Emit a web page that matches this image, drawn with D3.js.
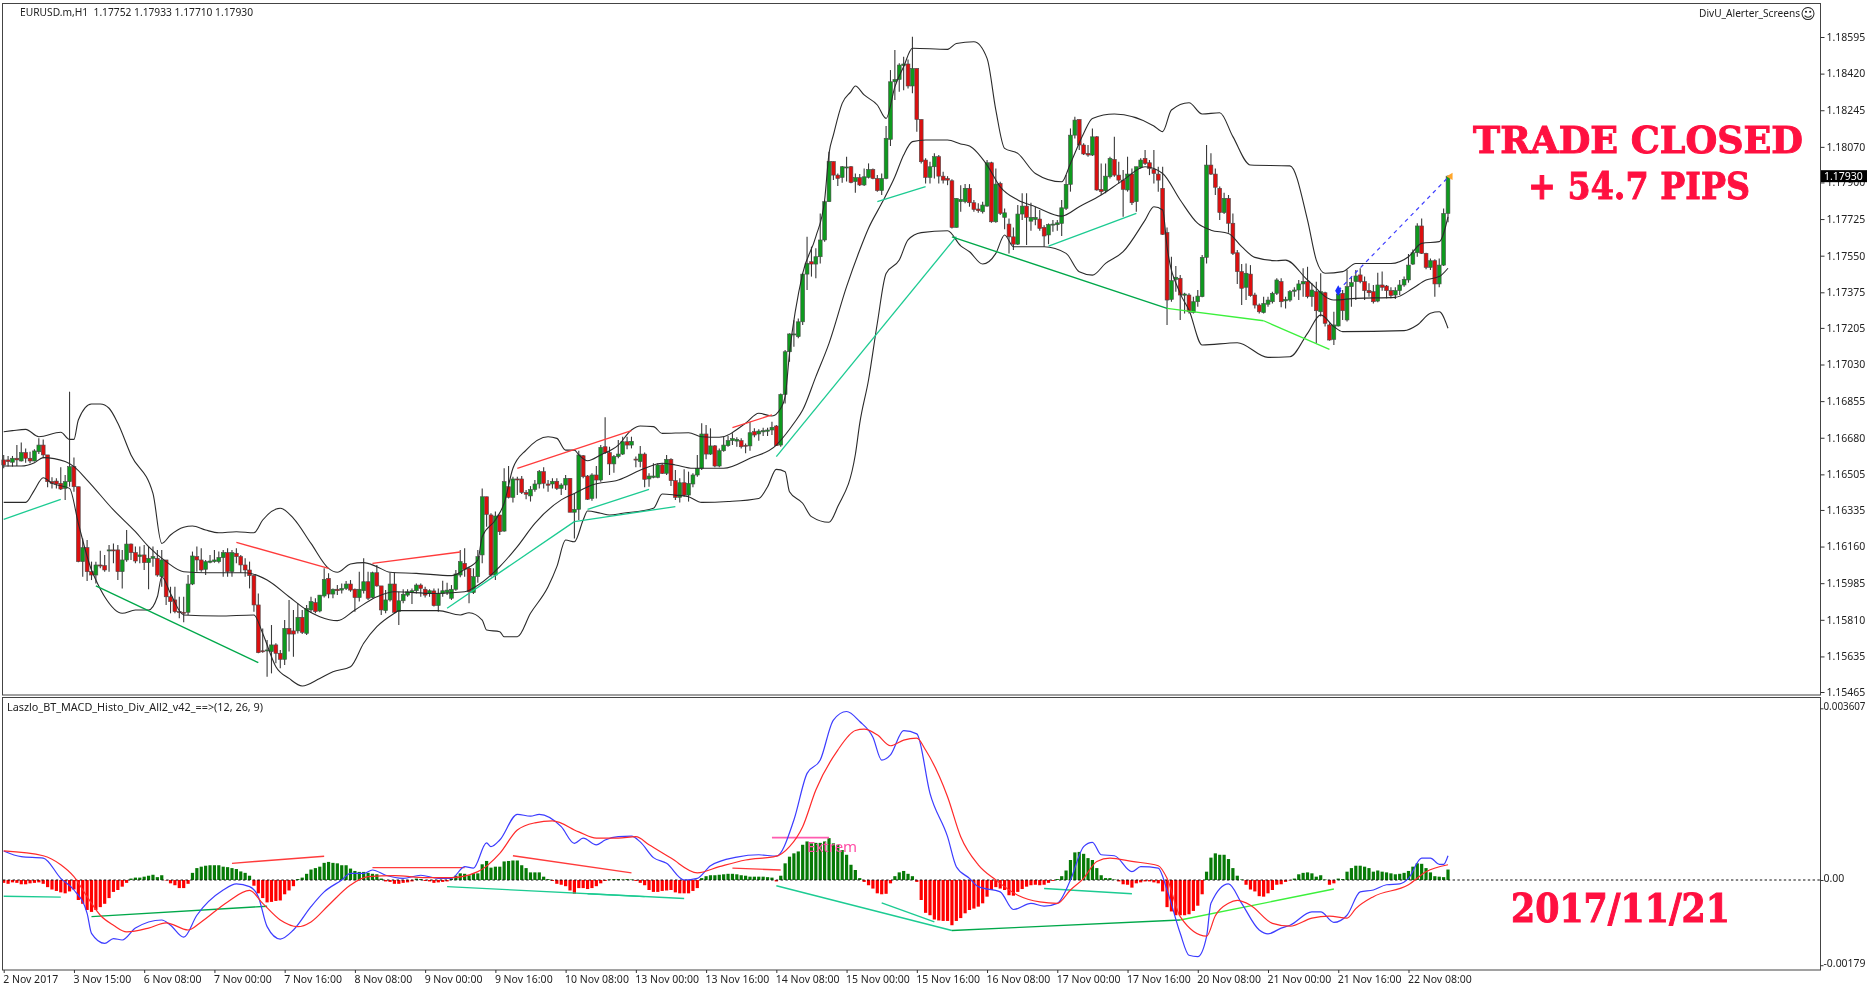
<!DOCTYPE html>
<html lang="en">

<head>
  <meta charset="UTF-8">
  <script src="https://d3js.org/d3.v7.min.js"></script>
  <title>EURUSD H1</title>
  <style>
    html, body { margin: 0; padding: 0; background: white; overflow: hidden; }
    svg { display: block; filter: blur(0.35px); }
    text { font-family: 'Noto Sans', sans-serif; font-size: 10.5px; fill: #222; }
    .big { font-family: 'DejaVu Serif', serif; font-weight: bold; fill: #ff1040; stroke: #ff1040; stroke-width: 1px; }
  </style>
</head>

<body>
  <svg id="chart" width="1867" height="993"></svg>

  <script>
    // prices are points above 1.15000, macd values are in units of 0.0001
    const opens = [1574,1574,1563,1582,1569,1609,1582,1569,1613,1645,
      1598,1470,1473,1462,1438,1470,1542,1446,1088,1155,
      1040,1024,1072,1069,1139,1144,1144,1040,1096,1172,
      1131,1112,1120,1083,1104,1104,1016,1096,920,905,
      849,846,846,981,1112,1096,1051,1085,1088,1088,
      1107,1131,1040,1128,1112,1072,1048,1021,881,662,
      661,658,690,650,621,769,757,757,822,745,
      857,892,852,924,1008,933,956,952,960,981,
      956,916,949,992,917,1035,972,854,905,981,
      849,901,928,941,949,976,956,936,948,878,
      936,941,913,956,1024,1080,1056,940,1016,1120,
      1398,1311,1024,1311,1234,1446,1395,1483,1483,1418,
      1402,1433,1459,1518,1459,1459,1472,1438,1454,1486,
      1324,1338,1594,1497,1390,1502,1478,1637,1609,1555,
      1590,1602,1661,1645,1578,1566,1602,1483,1491,1491,
      1550,1510,1577,1475,1395,1465,1406,1459,1502,1534,
      1698,1602,1641,1545,1618,1642,1666,1664,1666,1644,
      1641,1709,1698,1708,1711,1717,1736,1645,1887,2091,
      2172,2163,2234,2462,2521,2510,2545,2625,2808,3000,
      2935,2924,2969,2975,2904,2923,2888,2924,2962,2919,
      2861,2919,3106,3381,3392,3459,3466,3361,3445,3201,
      3007,2924,2975,3023,2930,2919,2908,2685,2808,2808,
      2872,2803,2773,2760,2787,2994,2712,2895,2733,2701,
      2640,2605,2749,2787,2715,2723,2725,2685,2649,2696,
      2698,2704,2776,2891,3126,3201,3079,3039,3031,3118,
      2867,2860,2927,3010,2935,2911,2864,2940,2808,2972,
      3015,2994,2962,2940,2872,2660,2341,2437,2442,2361,
      2362,2279,2330,2354,2542,2983,2940,2872,2756,2824,
      2705,2564,2474,2399,2462,2362,2314,2278,2318,2330,
      2370,2426,2334,2338,2380,2386,2415,2426,2354,2378,
      2282,2373,2219,2150,2214,2370,2243,2402,2426,2458,
      2426,2383,2378,2333,2410,2405,2383,2362,2383,2410,
      2434,2510,2564,2692,2561,2494,2526,2415,2505,2752];
    const closes = [1550,1566,1582,1574,1609,1582,1569,1617,1645,1598,
      1470,1462,1459,1435,1470,1542,1446,1088,1155,1040,
      1024,1072,1067,1048,1144,1140,1040,1096,1172,1131,
      1091,1120,1083,1104,1112,1024,1096,920,897,849,
      846,841,981,1115,1096,1048,1088,1091,1096,1108,
      1131,1040,1131,1112,1072,1048,1021,881,653,658,
      666,690,650,621,769,742,742,822,750,865,
      897,849,928,1003,933,956,949,960,981,952,
      916,956,992,913,1035,972,857,905,981,846,
      901,932,944,949,976,960,928,949,878,936,
      949,952,956,1029,1088,1051,944,1016,1112,1398,
      1314,1024,1306,1231,1470,1395,1483,1480,1418,1410,
      1433,1459,1518,1462,1453,1472,1438,1454,1486,1324,
      1338,1598,1494,1386,1502,1478,1634,1609,1555,1590,
      1602,1661,1645,1663,1574,1602,1481,1497,1497,1550,
      1510,1577,1475,1395,1465,1406,1462,1502,1534,1698,
      1602,1641,1545,1618,1645,1666,1676,1672,1637,1641,
      1704,1693,1712,1714,1717,1730,1642,1887,2091,2176,
      2176,2234,2462,2513,2510,2545,2625,2808,3000,2935,
      2919,2975,2974,2900,2923,2888,2927,2962,2919,2861,
      2919,3111,3381,3392,3461,3466,3361,3445,3201,2999,
      2924,2975,3023,2930,2911,2911,2685,2824,2819,2872,
      2803,2771,2765,2792,2994,2712,2892,2752,2755,2640,
      2605,2749,2787,2733,2733,2733,2680,2644,2699,2701,
      2707,2779,2891,3126,3198,3079,3036,3031,3118,2864,
      2856,2930,3015,2935,2911,2867,2940,2803,2975,3007,
      2991,2967,2943,2911,2652,2338,2431,2447,2362,2367,
      2282,2330,2357,2542,2983,2940,2877,2756,2824,2705,
      2561,2474,2394,2466,2359,2314,2282,2322,2338,2370,
      2434,2330,2341,2378,2386,2415,2426,2354,2386,2287,
      2378,2227,2147,2219,2367,2287,2402,2421,2453,2426,
      2383,2373,2330,2410,2399,2383,2360,2383,2410,2437,
      2505,2564,2692,2561,2494,2526,2415,2505,2752,2930];
    const highs = [1598,1593,1593,1645,1657,1629,1613,1625,1677,1672,
      1598,1491,1486,1539,1502,1900,1586,1446,1199,1191,
      1088,1088,1140,1120,1167,1175,1167,1144,1239,1175,
      1160,1160,1167,1160,1160,1144,1144,1096,968,968,
      920,920,1024,1136,1160,1152,1096,1120,1144,1136,
      1144,1152,1144,1152,1120,1104,1088,1024,936,769,
      713,785,698,666,809,905,857,889,857,881,
      920,913,928,1056,1032,960,976,984,995,1000,
      960,1040,1104,1040,1040,1072,972,952,1035,1035,
      944,956,956,960,984,984,968,956,960,960,
      997,987,976,1048,1144,1152,1064,1056,1144,1438,
      1398,1319,1327,1311,1534,1545,1494,1494,1497,1430,
      1449,1478,1526,1539,1478,1486,1486,1462,1502,1486,
      1414,1618,1598,1502,1510,1545,1645,1778,1637,1598,
      1669,1685,1685,1685,1590,1641,1609,1510,1558,1558,
      1558,1598,1582,1526,1486,1529,1518,1510,1598,1749,
      1741,1725,1645,1629,1685,1688,1701,1682,1677,1653,
      1757,1725,1720,1728,1728,1757,1741,1892,2099,2179,
      2242,2250,2465,2641,2593,2585,2752,2816,3047,3000,
      2943,2978,3023,2978,2943,2940,2967,2991,2967,2935,
      2943,3170,3437,3533,3469,3501,3488,3596,3445,3201,
      3015,2999,3039,3031,2951,2930,2915,2824,2887,2892,
      2892,2816,2800,2808,3007,2999,2967,2903,2776,2728,
      2685,2792,2848,2848,2803,2784,2768,2696,2704,2720,
      2720,2816,2935,3158,3214,3201,3087,3079,3158,3122,
      2991,2991,3023,3118,2999,2959,3023,2967,2975,3015,
      3055,3007,3055,2975,2975,2685,2545,2501,2458,2373,
      2370,2354,2386,2553,3079,3039,2967,2880,2851,2840,
      2752,2577,2510,2513,2505,2373,2322,2354,2354,2378,
      2442,2442,2354,2386,2399,2434,2490,2497,2418,2426,
      2466,2378,2227,2282,2386,2386,2482,2450,2482,2490,
      2450,2418,2410,2469,2474,2410,2399,2399,2434,2450,
      2558,2580,2705,2728,2564,2537,2533,2537,2776,2933];
    const lows = [1534,1542,1542,1545,1566,1561,1558,1566,1602,1582,
      1443,1438,1438,1430,1383,1446,1422,1085,1016,995,
      1000,984,1056,1040,1040,1080,1000,960,1088,1096,
      1080,1080,1048,956,1064,1016,968,881,841,841,
      817,798,833,976,1040,1040,1024,1080,1083,1080,
      1016,1016,1016,1080,1035,1016,960,849,650,653,
      538,554,602,578,594,658,634,745,742,737,
      844,841,846,917,913,913,928,936,952,944,
      849,897,936,905,913,968,833,841,897,841,
      785,889,920,885,936,920,917,920,873,849,
      920,928,905,949,1013,1016,889,933,987,1080,
      1255,1016,1000,1215,1231,1390,1370,1406,1411,1386,
      1375,1422,1438,1438,1422,1438,1430,1406,1430,1324,
      1199,1287,1486,1383,1379,1390,1470,1602,1502,1513,
      1582,1598,1625,1629,1539,1539,1443,1446,1486,1486,
      1507,1502,1449,1383,1370,1398,1375,1443,1494,1526,
      1577,1598,1539,1539,1613,1637,1645,1637,1629,1606,
      1618,1682,1666,1688,1688,1693,1640,1637,1844,2043,
      2115,2155,2219,2386,2450,2442,2513,2617,2808,2912,
      2883,2899,2904,2896,2851,2883,2883,2919,2915,2856,
      2840,2915,3074,3294,3333,3341,3349,3326,3142,2991,
      2895,2895,2919,2895,2895,2887,2680,2685,2760,2800,
      2784,2760,2755,2752,2784,2707,2707,2744,2676,2561,
      2577,2601,2720,2601,2669,2696,2669,2593,2605,2664,
      2669,2644,2768,2856,3110,3055,3031,3023,3026,2860,
      2840,2848,2919,2927,2895,2736,2856,2792,2760,2967,
      2983,2935,2895,2856,2649,2219,2330,2378,2243,2274,
      2274,2274,2306,2351,2513,2936,2840,2721,2749,2660,
      2553,2415,2314,2338,2354,2298,2274,2274,2306,2322,
      2362,2303,2298,2330,2354,2338,2354,2346,2306,2131,
      2259,2211,2144,2123,2211,2243,2235,2306,2338,2418,
      2338,2354,2322,2327,2383,2346,2346,2343,2362,2402,
      2421,2505,2545,2558,2485,2482,2354,2399,2501,2710];

    // bollinger bands, read at the bars where the curves turn: [bar, price]
    const bbUpper = [[0,1709],[2,1714],[5,1720],[8,1685],[13,1706],[15,1672],[16,1672],[17,1765],[20,1841],[22,1841],[24,1821],[26,1749],[29,1598],[34,1414],[36,1175],[38,1215],[41,1252],[43,1258],[46,1239],[49,1226],[53,1231],[57,1226],[59,1287],[63,1343],[66,1295],[70,1175],[74,1056],[76,1037],[79,1077],[82,1083],[85,1064],[88,1037],[94,1032],[102,1021],[105,1051],[108,1096],[109,1207],[112,1287],[114,1367],[116,1534],[119,1621],[124,1685],[126,1677],[128,1621],[130,1621],[131,1598],[133,1570],[136,1598],[140,1645],[143,1717],[145,1736],[148,1733],[150,1701],[156,1704],[159,1685],[163,1682],[169,1749],[172,1797],[175,1784],[177,1821],[178,1876],[179,2083],[182,2465],[185,2641],[187,2816],[188,3039],[189,3127],[191,3278],[193,3334],[194,3361],[196,3318],[199,3270],[201,3206],[203,3357],[205,3453],[207,3541],[215,3536],[217,3564],[221,3572],[224,3493],[226,3246],[228,3063],[231,3039],[235,2943],[241,2903],[243,2991],[246,3134],[248,3206],[253,3227],[262,3170],[264,3143],[266,3246],[270,3281],[273,3227],[277,3233],[280,3119],[284,2983],[293,2979],[297,2720],[299,2529],[301,2466],[305,2474],[308,2513],[316,2513],[320,2545],[323,2609],[327,2617],[329,2736]];
    const bbMiddle = [[0,1545],[4,1545],[7,1561],[9,1585],[14,1566],[16,1542],[19,1478],[25,1335],[30,1231],[33,1160],[37,1088],[41,1040],[46,1035],[55,1035],[60,1000],[65,920],[69,857],[72,825],[76,806],[80,857],[85,920],[89,944],[98,936],[105,944],[108,975],[113,1064],[117,1160],[121,1271],[127,1383],[130,1414],[134,1454],[140,1478],[146,1534],[150,1558],[153,1550],[157,1534],[164,1534],[170,1582],[176,1645],[178,1693],[180,1749],[182,1812],[185,1972],[188,2131],[192,2402],[195,2577],[197,2681],[200,2800],[203,2927],[205,3031],[207,3095],[210,3103],[215,3103],[218,3084],[220,3074],[224,2983],[227,2879],[231,2816],[235,2784],[241,2739],[245,2784],[250,2840],[255,2911],[260,2975],[264,2943],[268,2816],[272,2704],[275,2672],[279,2656],[282,2593],[285,2542],[290,2526],[292,2529],[297,2434],[303,2338],[308,2346],[317,2351],[321,2394],[324,2434],[327,2450],[329,2490]];
    const bbLower = [[0,1371],[5,1371],[7,1430],[9,1489],[11,1462],[15,1438],[17,1271],[20,1048],[21,1000],[23,920],[27,841],[30,857],[33,857],[35,920],[36,1016],[38,936],[41,833],[49,828],[57,833],[59,745],[62,586],[65,530],[68,494],[72,530],[75,562],[79,586],[82,698],[85,777],[89,841],[90,854],[99,854],[104,833],[106,844],[109,809],[110,761],[113,753],[114,729],[117,729],[120,841],[124,968],[126,1064],[128,1191],[130,1183],[132,1287],[133,1330],[136,1319],[138,1311],[141,1319],[148,1343],[150,1411],[153,1406],[156,1398],[159,1371],[165,1375],[172,1390],[174,1446],[176,1529],[178,1518],[179,1422],[182,1367],[184,1303],[188,1276],[190,1351],[194,1600],[195,1749],[197,1956],[199,2227],[201,2465],[204,2529],[206,2625],[209,2660],[215,2669],[218,2597],[220,2569],[223,2510],[226,2561],[228,2649],[230,2593],[237,2593],[242,2561],[245,2473],[248,2457],[251,2513],[255,2569],[260,2720],[262,2784],[264,2768],[265,2593],[268,2370],[270,2290],[273,2123],[281,2134],[288,2064],[293,2067],[297,2179],[300,2267],[303,2211],[305,2187],[319,2192],[322,2219],[325,2275],[327,2282],[329,2203]];

    // divergence lines on the price pane: [bar, price, bar, price]
    const priceTeal = [[0,1290,13,1386],[101,865,130,1279],[130,1279,153,1351],[133,1338,147,1433],[176,1590,217,2641],[199,2808,210,2880],[238,2596,258,2752]];
    const priceGreen = [[21,972,58,605],[216,2640,265,2298]];
    const priceRed = [[53,1180,74,1056],[84,1080,104,1134],[117,1534,143,1714],[166,1728,175,1789]];
    const priceLime = [[265,2298,287,2239],[287,2239,302,2102]];
    const tradeLine = [304,2383,329,2924];

    const priceTicks = [1.18595,1.1842,1.18245,1.1807,1.179,1.17725,1.1755,1.17375,1.17205,1.1703,1.16855,1.1668,1.16505,1.16335,1.1616,1.15985,1.1581,1.15635,1.15465];
    const lastPrice = 1.1793;

    const timeTickBars = [0,16,32,48,64,80,96,112,128,144,160,176,192,208,224,240,256,272,288,304,320];
    const timeLabels = ['2 Nov 2017','3 Nov 15:00','6 Nov 08:00','7 Nov 00:00','7 Nov 16:00','8 Nov 08:00','9 Nov 00:00','9 Nov 16:00','10 Nov 08:00','13 Nov 00:00','13 Nov 16:00','14 Nov 08:00','15 Nov 00:00','15 Nov 16:00','16 Nov 08:00','17 Nov 00:00','17 Nov 16:00','20 Nov 08:00','21 Nov 00:00','21 Nov 16:00','22 Nov 08:00'];

    const histogram = [-.6,-.8,-.5,-.6,-.9,-.9,-.7,-.6,-.5,-.8,
      -1.5,-2,-2.3,-2.6,-2.8,-2.4,-2,-4.2,-5,-6.3,
      -6.7,-6.3,-5.7,-5,-3.8,-2.5,-2.1,-1.4,-.6,.3,
      .5,.5,.7,.9,1.1,.6,1,-.1,-.7,-1.1,
      -1.7,-1.7,-.8,1.5,2.5,2.8,3,3.1,3.1,3.1,
      2.8,2.7,2.5,2.3,1.8,1.5,.9,-1.2,-2.8,-3.8,
      -4.7,-4.6,-4.4,-4.3,-3,-2.2,-1.3,.2,.5,1.3,
      2.2,2.5,2.8,3.6,3.8,3.6,3.5,3.1,3.1,2.4,
      1.9,1.7,1.7,1.5,1.3,1.2,.3,-.3,-.4,-.8,
      -.8,-.6,-.5,-.3,.3,.2,-.2,-.3,-.6,-.5,
      -.4,-.3,.3,.9,1.4,1.3,1,1.4,1.4,3.3,
      4,2.6,2.8,2.8,3.9,4,4.1,4.1,3.1,2.5,
      1.6,1.6,1.6,.7,.2,-.2,-.8,-1,-1.3,-2.2,
      -2.9,-1.7,-1.7,-1.9,-1.7,-1.3,-.7,-.2,.1,.2,
      .2,.1,.2,.1,-.2,-.6,-1.1,-2.1,-2.5,-2.5,
      -2.3,-2.2,-2.1,-2.6,-2.8,-2.8,-2.8,-2.3,-1.7,.4,
      .8,1,1,1.1,1.2,1.3,1.3,1.2,1,.9,
      .7,.7,.7,.7,.6,.5,-.3,.9,3.5,4.9,
      5.6,6,7.4,8.1,7.7,7.8,7.8,8.1,8.8,7.7,
      7.4,6.3,5.3,3.2,2.1,.4,-.4,-1.1,-1.8,-2.8,
      -3,-2.9,-.7,.8,1.6,1.9,1.3,.8,-.4,-4.2,
      -6.9,-7.4,-8.3,-8.5,-8.6,-8.6,-9.5,-8.6,-8,-7,
      -6.3,-6,-5.6,-4.9,-3.5,-2.1,-1.5,-1.8,-2.1,-3.2,
      -3.3,-2.5,-1.9,-1.4,-1.1,-1,-1.1,-1,-.6,-.2,
      .2,.8,2,4.2,5.8,5.9,5.5,4.6,4.2,2.5,
      1,.4,.4,.1,-.3,-.9,-1,-1.6,-.7,-.5,
      -.3,-.3,-.5,-.7,-2.4,-5.7,-6.6,-7.4,-7.4,-7.4,
      -7.2,-6.5,-5.4,-3,1.75,4.7,5.6,5.3,5.3,4.4,
      2.5,.9,.1,-1,-2,-2.4,-3.4,-3.5,-2.8,-2.1,
      -1,-.9,-.4,-.1,.3,1.2,1.5,1.6,1.4,.7,
      1,.1,-1,-.7,.3,.2,1.75,2.5,3,3,
      2.8,2.5,1.75,2,1.75,1.6,1.4,1.2,1.3,1.5,
      1.9,2.8,3.5,3.4,2.5,1.6,.8,.7,.6,2.2];

    const macdBlue = [[0,6.1],[4,4.9],[9,4.6],[13,.35],[16,-2.1],[19,-7],[20,-11.2],[23,-13.3],[25,-12.3],[27,-12.6],[30,-10.1],[36,-8.4],[38,-9.5],[41,-12],[44,-7.4],[50,-2.1],[53,-.8],[56,-1.4],[58,-3.5],[60,-9.8],[63,-12.4],[66,-10.5],[70,-5.6],[73,-2.5],[77,0],[79,1.4],[82,1.4],[84,2.1],[87,1],[91,.35],[95,1],[99,.35],[102,.35],[105,2.8],[107,2.5],[110,7.8],[111,7],[113,8.4],[117,13.8],[120,13.4],[122,13.8],[127,11.2],[130,7.7],[132,8.8],[135,7.4],[137,8.4],[140,9.1],[143,9.2],[145,8],[148,4.7],[151,3.5],[155,0],[158,.35],[161,3],[167,4.8],[172,5.3],[176,5],[180,12.6],[183,22.4],[186,25.2],[189,33.6],[192,35.4],[195,33.3],[198,30],[200,25.2],[202,26.3],[205,31.4],[208,30.7],[211,18.2],[215,9.1],[217,2.8],[220,.35],[222,-1.4],[227,-2.5],[230,-6.2],[234,-4.9],[237,-5.5],[240,-4.9],[243,0],[246,7],[248,7.9],[250,5.3],[253,5.1],[257,1.75],[259,2.8],[263,2.5],[265,-2.1],[268,-11.2],[270,-15.8],[272,-16.1],[274,-11.9],[275,-4.9],[279,-.8],[282,-4.9],[286,-10.5],[288,-11.3],[291,-10.1],[293,-9.5],[298,-6.7],[300,-6.7],[303,-8.9],[306,-7.4],[309,-2.5],[312,-2.1],[315,-1],[318,-.8],[320,.35],[323,4.6],[325,4.6],[327,3.3],[328,3.3],[329,5.1]];
    const macdRed = [[0,6.1],[9,5.1],[13,3.2],[16,.7],[19,-3.5],[22,-7.4],[25,-9.5],[28,-10.9],[33,-10.1],[37,-9],[42,-10.5],[45,-8.8],[51,-4.6],[56,-2.2],[59,-4.9],[63,-8.4],[67,-9.8],[70,-8.8],[74,-5.3],[79,-1.05],[83,.7],[89,.9],[96,.5],[102,.5],[108,1.75],[113,5.6],[117,10.5],[121,12],[125,12.4],[131,10.1],[135,8.8],[140,8.8],[144,9.1],[147,7.4],[152,4.6],[158,1.5],[163,2.8],[169,4.2],[176,5],[179,7],[182,11.2],[185,18.9],[190,27.3],[194,31.4],[196,31.7],[199,30.5],[202,28.2],[205,29.4],[208,29.8],[210,27.3],[215,17.5],[218,9.1],[222,3.2],[226,0],[231,-3.2],[236,-4.6],[240,-4.9],[243,-2.1],[246,.35],[249,3.9],[252,4.6],[257,3.9],[263,3],[265,.35],[268,-7.7],[274,-11.8],[276,-7.5],[279,-4.9],[281,-4.3],[284,-5.3],[289,-9.1],[293,-9.7],[298,-8],[302,-7.6],[306,-8],[308,-6],[312,-3.5],[320,-1],[324,1.75],[329,3.2]];

    // divergence lines on the macd pane: [bar, value, bar, value]
    const macdTeal = [[0,-3.4,13,-3.6],[101,-1.4,155,-3.9],[133,-2.9,146,-3.5],[176,-1.2,216,-10.6],[200,-4.8,212,-8.8],[237,-1.8,257,-2.9]];
    const macdGreen = [[20,-7.7,60,-5.5],[216,-10.6,268,-8.4]];
    const macdRedLines = [[52,3.5,73,5],[84,2.6,105,2.6],[116,5.1,143,1.5],[166,2.5,177,2.1]];
    const macdLime = [[268,-8.4,303,-1.9]];
    const macdPink = [[175,8.9,188,8.9]];
    const macdTickValues = [36.07,0,-17.9];
    const macdTickLabels = ['0.003607','0.00','-0.00179'];

    const tealColor = '#1ccb92', greenColor = '#00a84a', redColor = '#ff3b3b', limeColor = '#3cf03c';

    const svg = d3.select('#chart');

    const x = d3.scaleLinear().domain([0, 329]).range([3.7, 1448]);
    const priceY = d3.scaleLinear().domain([465, 3595]).range([692, 37]);
    const macdY = d3.scaleLinear().domain([0, 36.07]).range([880, 708.3]);

    svg.append('rect').attr('width', 1867).attr('height', 993).attr('fill', 'white');

    // candles
    const candles = svg.append('g');
    closes.forEach((c, i) => {
      candles.append('line')
        .attr('x1', x(i)).attr('x2', x(i))
        .attr('y1', priceY(highs[i])).attr('y2', priceY(lows[i]))
        .attr('stroke', '#3a3a3a').attr('stroke-width', 1.1);
      const top = Math.max(opens[i], c), bottom = Math.min(opens[i], c);
      candles.append('rect')
        .attr('x', x(i) - 1.9).attr('width', 3.8)
        .attr('y', priceY(top)).attr('height', Math.max(priceY(bottom) - priceY(top), 1))
        .attr('fill', c >= opens[i] ? '#0e9a1e' : '#dd0f0f')
        .attr('stroke', '#4a4a4a').attr('stroke-width', .6);
    });

    // bollinger bands
    const priceLine = d3.line().x(d => x(d[0])).y(d => priceY(d[1])).curve(d3.curveMonotoneX);
    [bbUpper, bbMiddle, bbLower].forEach(band => {
      svg.append('path').attr('d', priceLine(band))
        .attr('fill', 'none').attr('stroke', '#2a2a2a').attr('stroke-width', 1.1);
    });

    function drawSegments(segments, yScale, color, width) {
      svg.append('g').selectAll('line').data(segments).join('line')
        .attr('x1', d => x(d[0])).attr('y1', d => yScale(d[1]))
        .attr('x2', d => x(d[2])).attr('y2', d => yScale(d[3]))
        .attr('stroke', color).attr('stroke-width', width);
    }

    drawSegments(priceTeal, priceY, tealColor, 1.3);
    drawSegments(priceGreen, priceY, greenColor, 1.4);
    drawSegments(priceRed, priceY, redColor, 1.3);
    drawSegments(priceLime, priceY, limeColor, 1.3);

    // the trade: dashed line from entry to exit
    svg.append('line')
      .attr('x1', x(tradeLine[0])).attr('y1', priceY(tradeLine[1]))
      .attr('x2', x(tradeLine[2])).attr('y2', priceY(tradeLine[3]))
      .attr('stroke', '#3c3cff').attr('stroke-width', 1.2).attr('stroke-dasharray', '4,4');
    svg.append('path')
      .attr('d', d3.symbol().type(d3.symbolDiamond).size(34)())
      .attr('transform', 'translate(' + x(tradeLine[0]) + ',' + priceY(tradeLine[1]) + ')')
      .attr('fill', '#1a30ff');
    svg.append('path')
      .attr('d', d3.symbol().type(d3.symbolTriangle).size(22)())
      .attr('transform', 'translate(' + (x(tradeLine[2]) + 2.5) + ',' + (priceY(tradeLine[3]) - 1) + ') rotate(30)')
      .attr('fill', '#ffa62b');

    // macd histogram
    svg.append('g').selectAll('rect').data(histogram).join('rect')
      .attr('x', (d, i) => x(i) - 1.6)
      .attr('width', 3.2)
      .attr('y', d => macdY(Math.max(d, 0)))
      .attr('height', d => Math.abs(macdY(d) - macdY(0)))
      .attr('fill', d => d >= 0 ? '#067a06' : '#ff0000');

    svg.append('line')
      .attr('x1', 3).attr('x2', 1820)
      .attr('y1', macdY(0)).attr('y2', macdY(0))
      .attr('stroke', '#111').attr('stroke-width', 1).attr('stroke-dasharray', '2.4,2.4');

    const macdLine = d3.line().x(d => x(d[0])).y(d => macdY(d[1])).curve(d3.curveMonotoneX);
    drawSegments(macdTeal, macdY, tealColor, 1.4);
    drawSegments(macdGreen, macdY, greenColor, 1.4);
    drawSegments(macdRedLines, macdY, redColor, 1.4);
    drawSegments(macdLime, macdY, limeColor, 1.4);
    drawSegments(macdPink, macdY, '#ff5cb0', 1.6);
    svg.append('path').attr('d', macdLine(macdBlue))
      .attr('fill', 'none').attr('stroke', '#3c3cff').attr('stroke-width', 1.2);
    svg.append('path').attr('d', macdLine(macdRed))
      .attr('fill', 'none').attr('stroke', '#ff2a2a').attr('stroke-width', 1.2);

    svg.append('text').text('Extrem')
      .attr('x', x(183)).attr('y', 852)
      .style('font-size', '15px').style('fill', '#ff4da6');

    // pane frames
    const frame = svg.append('g').attr('fill', 'none').attr('stroke', '#444');
    frame.append('rect').attr('x', 2.5).attr('y', 3.5).attr('width', 1818).attr('height', 691.5);
    frame.append('rect').attr('x', 2.5).attr('y', 697.5).attr('width', 1818).attr('height', 272.5);

    // axes
    const priceAxis = d3.axisRight(priceY)
      .tickValues(priceTicks.map(p => (p - 1.15) * 1e5))
      .tickFormat((d, i) => priceTicks[i].toFixed(5))
      .tickSize(4).tickPadding(2);
    const priceAxisG = svg.append('g').attr('transform', 'translate(1820.5,0)').call(priceAxis);
    priceAxisG.select('.domain').remove();

    const macdAxis = d3.axisRight(macdY)
      .tickValues(macdTickValues)
      .tickFormat((d, i) => macdTickLabels[i])
      .tickSize(3).tickPadding(0);
    const macdAxisG = svg.append('g').attr('transform', 'translate(1820.5,0)').call(macdAxis);
    macdAxisG.select('.domain').remove();
    macdAxisG.selectAll('text').attr('dy', '0.1em')
      .attr('textLength', (d, i) => i === 1 ? null : 42)
      .attr('lengthAdjust', 'spacingAndGlyphs');

    const timeAxis = d3.axisBottom(x)
      .tickValues(timeTickBars)
      .tickFormat((d, i) => timeLabels[i])
      .tickSize(3).tickPadding(3);
    const timeAxisG = svg.append('g').attr('transform', 'translate(0,970)').call(timeAxis);
    timeAxisG.select('.domain').remove();
    timeAxisG.selectAll('text').attr('text-anchor', 'start').attr('dx', '-1');

    svg.selectAll('.tick line').attr('stroke', '#333');
    svg.selectAll('.tick text').style('font-family', "'Noto Sans', sans-serif").style('font-size', '10.5px').style('fill', '#222');

    // last price tag
    svg.append('rect')
      .attr('x', 1821).attr('y', priceY((lastPrice - 1.15) * 1e5) - 6)
      .attr('width', 46).attr('height', 12).attr('fill', 'black');
    svg.append('text').text(lastPrice.toFixed(5))
      .attr('x', 1824).attr('y', priceY((lastPrice - 1.15) * 1e5) + 4)
      .style('fill', 'white');

    // captions
    svg.append('text').text('EURUSD.m,H1  1.17752 1.17933 1.17710 1.17930')
      .attr('x', 20).attr('y', 15.5).attr('xml:space', 'preserve')
      .attr('textLength', 233).attr('lengthAdjust', 'spacingAndGlyphs');
    svg.append('text').text('DivU_Alerter_Screens')
      .attr('x', 1699).attr('y', 17)
      .attr('textLength', 101).attr('lengthAdjust', 'spacingAndGlyphs');
    svg.append('text').text('\u263A')
      .attr('x', 1808).attr('y', 18.5).attr('text-anchor', 'middle')
      .style('font-family', "'DejaVu Sans'").style('font-size', '15px');
    svg.append('text').text('Laszlo_BT_MACD_Histo_Div_All2_v42_==>(12, 26, 9)')
      .attr('x', 7).attr('y', 711)
      .attr('textLength', 256).attr('lengthAdjust', 'spacingAndGlyphs');

    svg.append('text').attr('class', 'big').text('TRADE CLOSED')
      .attr('x', 1473).attr('y', 153).style('font-size', '38px')
      .attr('textLength', 330).attr('lengthAdjust', 'spacingAndGlyphs');
    svg.append('text').attr('class', 'big').text('+ 54.7 PIPS')
      .attr('x', 1528).attr('y', 199).style('font-size', '38px')
      .attr('textLength', 222).attr('lengthAdjust', 'spacingAndGlyphs');
    svg.append('text').attr('class', 'big').text('2017/11/21')
      .attr('x', 1511).attr('y', 922).style('font-size', '39px')
      .attr('textLength', 219).attr('lengthAdjust', 'spacingAndGlyphs');
  </script>
</body>

</html>
